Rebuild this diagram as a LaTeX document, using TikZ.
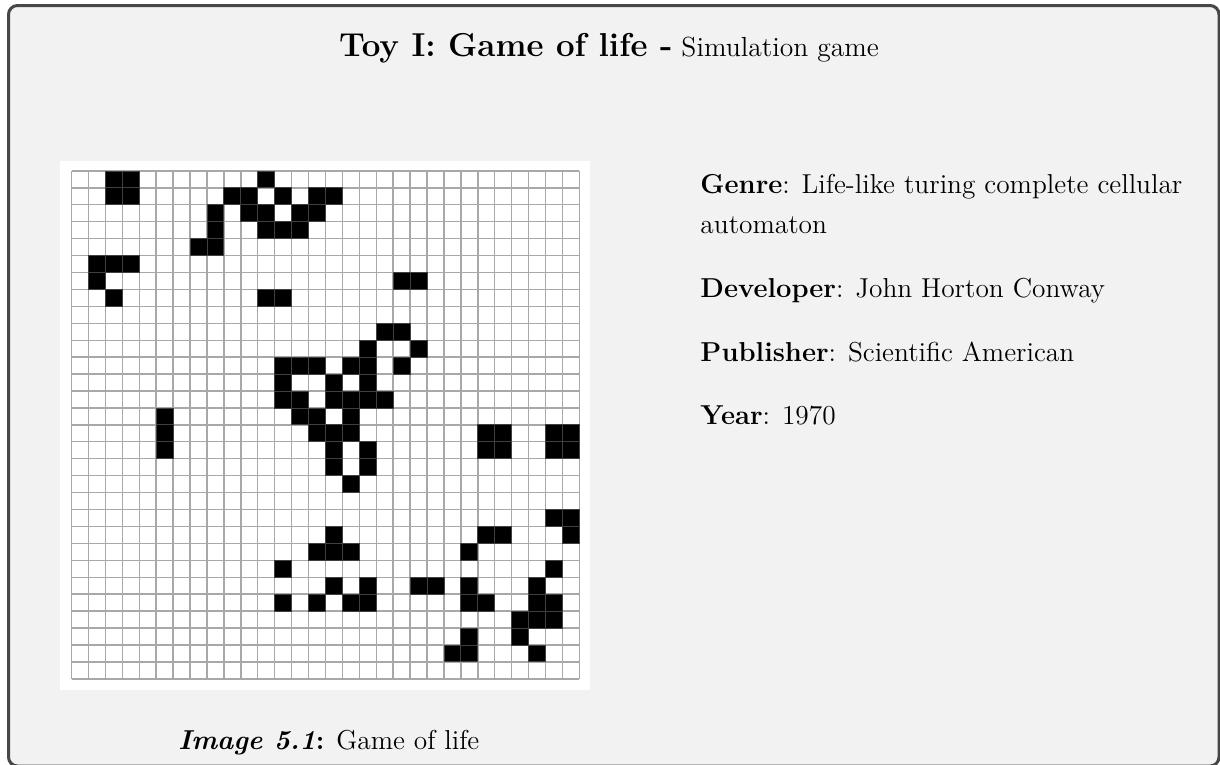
\documentclass[tikz,border=0pt]{standalone}
\usepackage{tikz}
\definecolor{framebg}{HTML}{F2F2F2}
\definecolor{framedraw}{HTML}{474747}
\definecolor{gridline}{HTML}{A8A8A8}
\tikzset{
  frame/.style={line width=3pt, draw=framedraw, fill=framebg, rounded corners=9pt},
  body/.style={inner sep=0pt, anchor=base west, scale=2.28, transform shape, font=\fontsize{12}{14.4}\selectfont},
  titletext/.style={inner sep=0pt, anchor=base, scale=2.3, transform shape, font=\fontsize{12}{14.4}\selectfont},
  cell/.style={fill=black, draw=black!75, line width=0.8pt},
  gridl/.style={draw=gridline, line width=1.4pt}
}
\begin{document}
\begin{tikzpicture}[x=1pt,y=-1pt]
\useasboundingbox (0,0) rectangle (1220,764);
\draw[frame] (8.5,5.5) rectangle (1219,766);
% title
\node[titletext] (title) at (609,56) {{\fontsize{14.4}{17}\selectfont\bfseries Toy I: Game of life -} Simulation game};
% image panel
\fill[white] (60,160.5) rectangle (590,690);
\def\ox{71.5}\def\oy{170.9}\def\cs{16.93}
\foreach \i in {0,...,30}{
  \draw[gridl] ({\ox+\i*\cs},\oy) -- ({\ox+\i*\cs},{\oy+30*\cs});
  \draw[gridl] (\ox,{\oy+\i*\cs}) -- ({\ox+30*\cs},{\oy+\i*\cs});
}
\foreach \r/\c in {0/2,0/3,0/11,
1/2,1/3,1/9,1/10,1/12,1/14,1/15,
2/8,2/10,2/11,2/13,2/14,
3/8,3/11,3/12,3/13,
4/7,4/8,
5/1,5/2,5/3,
6/1,6/19,6/20,
7/2,7/11,7/12,
9/18,9/19,
10/17,10/20,
11/12,11/13,11/14,11/16,11/17,11/19,
12/12,12/15,12/17,
13/12,13/13,13/15,13/16,13/17,13/18,
14/5,14/13,14/14,14/16,
15/5,15/14,15/15,15/16,15/24,15/25,15/28,15/29,
16/5,16/15,16/17,16/24,16/25,16/28,16/29,
17/15,17/17,
18/16,
20/28,20/29,
21/15,21/24,21/25,21/29,
22/14,22/15,22/16,22/23,
23/12,23/28,
24/15,24/17,24/20,24/21,24/23,24/27,
25/12,25/14,25/16,25/17,25/23,25/24,25/27,25/28,
26/26,26/27,26/28,
27/23,27/26,
28/22,28/23,28/27}{
  \draw[cell] ({\ox+\c*\cs},{\oy+\r*\cs}) rectangle ({\ox+(\c+1)*\cs},{\oy+(\r+1)*\cs});
}
% caption
\node[body] (caption) at (178,749) {\textbf{\textit{Image 5.1}:} Game of life};
% info
\node[body] (genre) at (700,193.5) {\textbf{Genre}: Life-like turing complete cellular};
\node[body] (genre2) at (700,233) {automaton};
\node[body] (dev) at (700,297.5) {\textbf{Developer}: John Horton Conway};
\node[body] (pub) at (700,361) {\textbf{Publisher}: Scientific American};
\node[body] (year) at (700,424.5) {\textbf{Year}: 1970};
\end{tikzpicture}
\end{document}
